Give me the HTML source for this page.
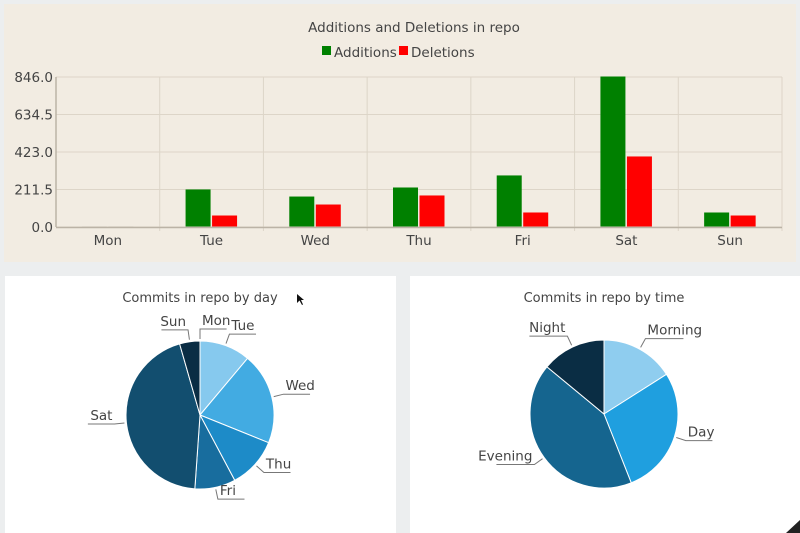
<!DOCTYPE html>
<html><head><meta charset="utf-8"><style>
body{margin:0;width:800px;height:533px;background:#eceeef;overflow:hidden;font-family:"DejaVu Sans","Liberation Sans",sans-serif;}
svg{position:absolute;left:0;top:0}
text{fill:#444;}
</style></head><body>
<svg id="s" width="800" height="533">
<rect x="4" y="4" width="792" height="258" fill="#f2ece2"/>
<rect x="5" y="276" width="391" height="260" fill="#fff"/>
<rect x="410" y="276" width="392" height="260" fill="#fff"/>
<text x="414" y="32" font-size="13.5" text-anchor="middle">Additions and Deletions in repo</text>
<rect x="322" y="46" width="9" height="9" fill="#008000"/>
<text x="334" y="57" font-size="13.5">Additions</text>
<rect x="399" y="46" width="9" height="9" fill="#ff0000"/>
<text x="411" y="57" font-size="13.5">Deletions</text>
<g id="bars"></g>
<text x="200" y="302" font-size="13" text-anchor="middle">Commits in repo by day</text>
<text x="604" y="302" font-size="13" text-anchor="middle">Commits in repo by time</text>
<g id="pie1"></g><g id="pie2"></g>
<path d="M297,294 L297,303 L299.5,300.5 L302,305 L303,304.5 L301,300 L304,300 Z" fill="#111"/>
<path d="M800,520 L786,533 L800,533 Z" fill="#222"/>
</svg>
<script>
const categories=["Mon","Tue","Wed","Thu","Fri","Sat","Sun"];
const additions=[0,209,169,220,288,846,79];
const deletions=[0,62,124,175,79,395,62];
const yTicks=[0,211.5,423,634.5,846];
const dayLabels=["Mon","Tue","Wed","Thu","Fri","Sat","Sun"];
const dayValues=[0,5,9,5,4,20,2];
const dayColors=["#b6e0f6","#86c9ee","#42abe2","#1d8bc8","#186d9e","#124e6f","#0a2d44"];
const timeLabels=["Morning","Day","Evening","Night"];
const timeValues=[8,14,21,7];
const timeColors=["#8fcdef","#1f9fdf","#15658f","#0a2d44"];
const NS="http://www.w3.org/2000/svg";
function mk(t,a,p){const e=document.createElementNS(NS,t);for(const k in a)e.setAttribute(k,a[k]);p.appendChild(e);return e;}
const X0=56,X1=782,Y0=227,Y1=77,YMAX=846;
const y=v=>Y0-(v/YMAX)*(Y0-Y1);
const bw=(X1-X0)/categories.length;
const cx=i=>X0+bw*(i+0.5);
const g=document.getElementById('bars');
yTicks.forEach(t=>{
 const l=mk('line',{x1:X0,x2:X1,y1:y(t),y2:y(t),stroke:'#ddd5c8','stroke-width':1},g);
 
 
 const tx=mk('text',{x:X0-3,y:y(t)+5,'font-size':13.5,'text-anchor':'end'},g);
 tx.textContent=t.toFixed(1);
 
 
});
categories.forEach((c,i)=>{
 const xx=X0+bw*(i+1);
 const l=mk('line',{x1:xx,x2:xx,y1:Y1,y2:Y0+4,stroke:'#ddd5c8'},g);
 
 
 const a=mk('rect',{x:cx(i)-26,y:y(additions[i])-0.5,width:25,height:Math.max(1,Y0-y(additions[i])),fill:additions[i]>0?'#008000':'#c8c0b2'},g);
 
 
 const d=mk('rect',{x:cx(i)+0.5,y:y(deletions[i])-0.5,width:25,height:Math.max(1,Y0-y(deletions[i])),fill:deletions[i]>0?'#ff0000':'#c8c0b2'},g);
 
 
 const t=mk('text',{x:cx(i),y:245,'font-size':13.5,'text-anchor':'middle'},g);
 t.textContent=c;
 
 
});
const ax=mk('line',{x1:X0,x2:X1,y1:Y0+0.5,y2:Y0+0.5,stroke:'#bbb3a6','stroke-width':1.5},g);


const ay=mk('line',{x1:X0,x2:X0,y1:Y1,y2:Y0,stroke:'#bbb3a6','stroke-width':1.5},g);



function pie(id,labels,vals,cols,CX,CY,R){
 const p=document.getElementById(id);
 const tot=vals.reduce((a,b)=>a+b,0);
 let a0=0;
 const pt=(a,r)=>[CX+r*Math.sin(a),CY-r*Math.cos(a)];
 vals.forEach((v,i)=>{
  const a1=a0+v/tot*2*Math.PI;
  if(v>0){
   const s=pt(a0,R),e=pt(a1,R);
   const path=mk('path',{d:`M${CX},${CY}L${s[0]},${s[1]}A${R},${R} 0 ${a1-a0>Math.PI?1:0} 1 ${e[0]},${e[1]}Z`,fill:cols[i],stroke:'#fff','stroke-width':1},p);
   
   
  }
  const m=(a0+a1)/2;
  const q=pt(m,R+2),r2=pt(m,R+12);
  const right=Math.sin(m)>=-0.01;
  const ex=r2[0]+(right?38:-38)*(labels[i].length>4?1:0.7);
  mk('path',{d:`M${q[0]},${q[1]}L${r2[0]},${r2[1]}L${ex},${r2[1]}`,fill:'none',stroke:'#777','stroke-width':1},p);
  const t=mk('text',{x:right?r2[0]+2:r2[0]-2,y:r2[1]-4,'font-size':13.5,'text-anchor':right?'start':'end'},p);
  t.textContent=labels[i];
  
  
  a0=a1;
 });
}
pie('pie1',dayLabels,dayValues,dayColors,200,415,74);
pie('pie2',timeLabels,timeValues,timeColors,604,414,74);
</script>
</body></html>
